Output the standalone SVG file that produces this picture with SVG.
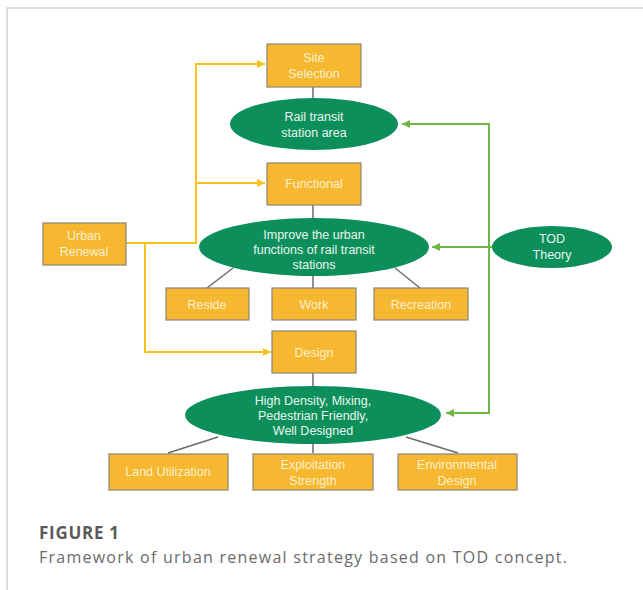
<svg xmlns="http://www.w3.org/2000/svg" width="643" height="590" viewBox="0 0 643 590">
<defs>
<style>
.box{fill:#f6b731;stroke:#8c8576;stroke-width:1.2}
.ell{fill:#0d8f5c}
.bt{font-family:"Liberation Sans",Arial,sans-serif;font-size:12.5px;fill:#fdf0cc;text-anchor:middle}
.et{font-family:"Liberation Sans",Arial,sans-serif;font-size:12.5px;fill:#e9f6ee;text-anchor:middle}
.gl{stroke:#6f6a68;stroke-width:1.5;fill:none}
.yl{stroke:#f7c21c;stroke-width:2;fill:none}
.grl{stroke:#71b646;stroke-width:2;fill:none}
.cap{font-family:"Open Sans","Noto Sans","Liberation Sans",sans-serif}
</style>
<marker id="ay" viewBox="0 0 10 10" refX="10" refY="5" markerWidth="4" markerHeight="4" orient="auto" markerUnits="strokeWidth"><path d="M0,0 L10,5 L0,10 z" fill="#f7c21c"/></marker>
<marker id="ag" viewBox="0 0 10 10" refX="10" refY="5" markerWidth="4" markerHeight="4" orient="auto" markerUnits="strokeWidth"><path d="M0,0 L10,5 L0,10 z" fill="#71b646"/></marker>
</defs>
<rect width="643" height="590" fill="#ffffff"/>
<path d="M7,590 V8 H643" fill="none" stroke="#d4d4d4" stroke-width="1.5"/>

<g id="connectors">
<path class="gl" d="M313,87 V98"/>
<path class="gl" d="M313,205 V218"/>
<path class="gl" d="M233,268 L207,288"/>
<path class="gl" d="M313,276 V288"/>
<path class="gl" d="M395,268 L420,288"/>
<path class="gl" d="M313,373 V386"/>
<path class="gl" d="M218,437 L168,453"/>
<path class="gl" d="M313,443 V453"/>
<path class="gl" d="M406,437 L458,453"/>
<path class="yl" d="M126,243 H196 V64 H265" marker-end="url(#ay)"/>
<path class="yl" d="M196,183 H265" marker-end="url(#ay)"/>
<path class="yl" d="M145,243 V352 H271" marker-end="url(#ay)"/>
<path class="grl" d="M492,247 H489 V124 H402" marker-end="url(#ag)"/>
<path class="grl" d="M489,247 H432" marker-end="url(#ag)"/>
<path class="grl" d="M489,247 V413 H446" marker-end="url(#ag)"/>
</g>

<g id="site-selection"><rect class="box" x="267" y="44" width="94" height="43"/><text class="bt" x="314" y="62">Site</text><text class="bt" x="314" y="78">Selection</text></g>
<g id="rail-transit"><ellipse class="ell" cx="314" cy="124" rx="84" ry="26"/><text class="et" x="314" y="121">Rail transit</text><text class="et" x="314" y="137">station area</text></g>
<g id="functional"><rect class="box" x="267" y="163" width="94" height="42"/><text class="bt" x="314" y="188">Functional</text></g>
<g id="improve"><ellipse class="ell" cx="314" cy="247" rx="115" ry="29"/><text class="et" x="314" y="239">Improve the urban</text><text class="et" x="314" y="254">functions of rail transit</text><text class="et" x="314" y="269">stations</text></g>
<g id="reside"><rect class="box" x="166" y="288" width="83" height="32"/><text class="bt" x="207" y="309">Reside</text></g>
<g id="work"><rect class="box" x="272" y="288" width="84" height="32"/><text class="bt" x="314" y="309">Work</text></g>
<g id="recreation"><rect class="box" x="374" y="288" width="94" height="32"/><text class="bt" x="421" y="309">Recreation</text></g>
<g id="design"><rect class="box" x="272" y="331" width="84" height="42"/><text class="bt" x="314" y="357">Design</text></g>
<g id="high-density"><ellipse class="ell" cx="313" cy="415" rx="128" ry="29"/><text class="et" x="313" y="405">High Density, Mixing,</text><text class="et" x="313" y="420">Pedestrian Friendly,</text><text class="et" x="313" y="435">Well Designed</text></g>
<g id="land-utilization"><rect class="box" x="109" y="454" width="119" height="36"/><text class="bt" x="168" y="476">Land Utilization</text></g>
<g id="exploitation"><rect class="box" x="253" y="454" width="120" height="36"/><text class="bt" x="313" y="469">Exploitation</text><text class="bt" x="313" y="485">Strength</text></g>
<g id="environmental"><rect class="box" x="398" y="454" width="119" height="36"/><text class="bt" x="457" y="469">Environmental</text><text class="bt" x="457" y="485">Design</text></g>
<g id="urban-renewal"><rect class="box" x="43" y="223" width="83" height="42"/><text class="bt" x="84" y="240">Urban</text><text class="bt" x="84" y="256">Renewal</text></g>
<g id="tod-theory"><ellipse class="ell" cx="552" cy="247" rx="60" ry="21"/><text class="et" x="552" y="243">TOD</text><text class="et" x="552" y="259">Theory</text></g>

<text class="cap" x="39" y="539" font-size="17" font-weight="bold" fill="#5a5a5a" textLength="80">FIGURE 1</text>
<text class="cap" x="39" y="563" font-size="16" fill="#6b6b6b" textLength="528">Framework of urban renewal strategy based on TOD concept.</text>
</svg>
